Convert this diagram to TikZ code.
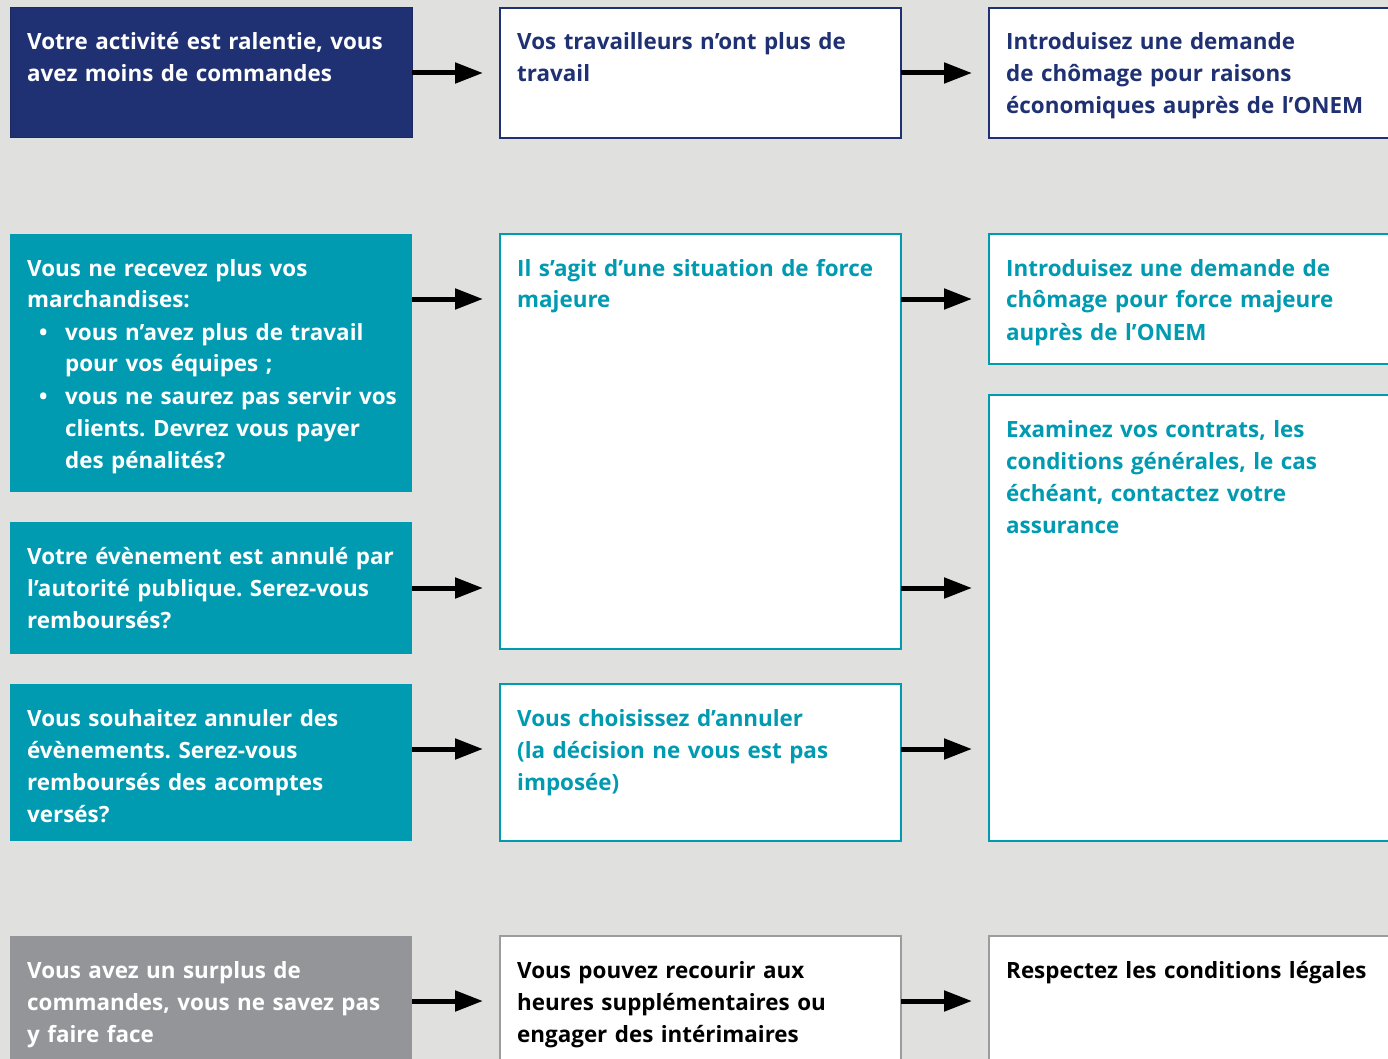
\documentclass[tikz,border=0pt]{standalone}
\usepackage{fontspec}
\setmainfont{Open Sans}
\usetikzlibrary{arrows.meta,calc}
\definecolor{bgc}{HTML}{E0E0DE}
\definecolor{navy}{HTML}{1F3172}
\definecolor{teal}{HTML}{009AB1}
\definecolor{grayf}{HTML}{939598}
\definecolor{grayb}{HTML}{9C9C9C}
\frenchspacing
\begin{document}
\begin{tikzpicture}[x=1pt,y=-1pt,
  bx/.style={rectangle, inner sep=0pt, outer sep=0pt, anchor=north west},
  wbox/.style={bx, fill=white, line width=2.5pt},
  txt/.style={anchor=base west, inner sep=0pt, align=left, text width=395pt,
    font=\fontsize{22.4}{32}\selectfont\bfseries},
  arr/.style={line width=5pt, -{Triangle[length=28pt,width=20pt]}, shorten >=17pt}]
\fill[bgc] (0,0) rectangle (1388,1059);
\clip (0,0) rectangle (1388,1059);
% row 1
\node[bx, fill=navy, draw=navy!85!black, line width=1pt, minimum width=402pt, minimum height=130pt] (b11) at (10,8) {};
\node[wbox, draw=navy, minimum width=401pt, minimum height=130pt] (b12) at (500,8) {};
\node[wbox, draw=navy, minimum width=420pt, minimum height=130pt] (b13) at (989,8) {};
% row 2
\node[bx, fill=teal, minimum width=402pt, minimum height=258pt] (b21) at (10,234) {};
\node[wbox, draw=teal, minimum width=401pt, minimum height=415pt] (b22) at (500,234) {};
\node[wbox, draw=teal, minimum width=420pt, minimum height=130pt] (b23) at (989,234) {};
\node[wbox, draw=teal, minimum width=420pt, minimum height=446pt] (b33) at (989,395) {};
% row 3
\node[bx, fill=teal, minimum width=402pt, minimum height=132pt] (b31) at (10,522) {};
% row 4
\node[bx, fill=teal, minimum width=402pt, minimum height=157pt] (b41) at (10,684) {};
\node[wbox, draw=teal, minimum width=401pt, minimum height=157pt] (b42) at (500,684) {};
% row 5
\node[bx, fill=grayf, minimum width=402pt, minimum height=140pt] (b51) at (10,936) {};
\node[wbox, draw=grayb, minimum width=401pt, minimum height=140pt] (b52) at (500,936) {};
\node[wbox, draw=grayb, minimum width=420pt, minimum height=140pt] (b53) at (989,936) {};

% texts
\node[txt, text=white] (t11) at ($(b11.north west)+(17,42)$) {Votre activité est ralentie, vous\\avez moins de commandes};
\node[txt, text=navy] (t12) at ($(b12.north west)+(17,42)$) {Vos travailleurs n’ont plus de\\travail};
\node[txt, text=navy] (t13) at ($(b13.north west)+(17,42)$) {Introduisez une demande\\de chômage pour raisons\\économiques auprès de l’ONEM};
\node[txt, text=white] (t21) at ($(b21.north west)+(17,42)$) {Vous ne recevez plus vos\\marchandises:\\
\makebox[38pt][l]{\hspace{12pt}•}vous n’avez plus de travail\\
\hspace*{38pt}pour vos équipes ;\\
\makebox[38pt][l]{\hspace{12pt}•}vous ne saurez pas servir vos\\
\hspace*{38pt}clients. Devrez vous payer\\
\hspace*{38pt}des pénalités?};
\node[txt, text=teal] (t22) at ($(b22.north west)+(17,42)$) {Il s’agit d’une situation de force\\majeure};
\node[txt, text=teal] (t23) at ($(b23.north west)+(17,42)$) {Introduisez une demande de\\chômage pour force majeure\\auprès de l’ONEM};
\node[txt, text=teal] (t33) at ($(b33.north west)+(17,42)$) {Examinez vos contrats, les\\conditions générales, le cas\\échéant, contactez votre\\assurance};
\node[txt, text=white] (t31) at ($(b31.north west)+(17,42)$) {Votre évènement est annulé par\\l’autorité publique. Serez-vous\\remboursés?};
\node[txt, text=white] (t41) at ($(b41.north west)+(17,42)$) {Vous souhaitez annuler des\\évènements. Serez-vous\\remboursés des acomptes\\versés?};
\node[txt, text=teal] (t42) at ($(b42.north west)+(17,42)$) {Vous choisissez d’annuler\\(la décision ne vous est pas\\imposée)};
\node[txt, text=white] (t51) at ($(b51.north west)+(17,42)$) {Vous avez un surplus de\\commandes, vous ne savez pas\\y faire face};
\node[txt, text=black] (t52) at ($(b52.north west)+(17,42)$) {Vous pouvez recourir aux\\heures supplémentaires ou\\engager des intérimaires};
\node[txt, text=black] (t53) at ($(b53.north west)+(17,42)$) {Respectez les conditions légales};

% arrows
\coordinate (r1) at (0,73);
\coordinate (r2) at (0,299);
\coordinate (r3) at (0,588);
\coordinate (r4) at (0,749);
\coordinate (r5) at (0,1001);
\draw[arr] (b11.east |- r1) -- (b12.west |- r1);
\draw[arr] (b12.east |- r1) -- (b13.west |- r1);
\draw[arr] (b21.east |- r2) -- (b22.west |- r2);
\draw[arr] (b22.east |- r2) -- (b23.west |- r2);
\draw[arr] (b31.east |- r3) -- (b22.west |- r3);
\draw[arr] (b22.east |- r3) -- (b33.west |- r3);
\draw[arr] (b41.east |- r4) -- (b42.west |- r4);
\draw[arr] (b42.east |- r4) -- (b33.west |- r4);
\draw[arr] (b51.east |- r5) -- (b52.west |- r5);
\draw[arr] (b52.east |- r5) -- (b53.west |- r5);
\end{tikzpicture}
\end{document}
